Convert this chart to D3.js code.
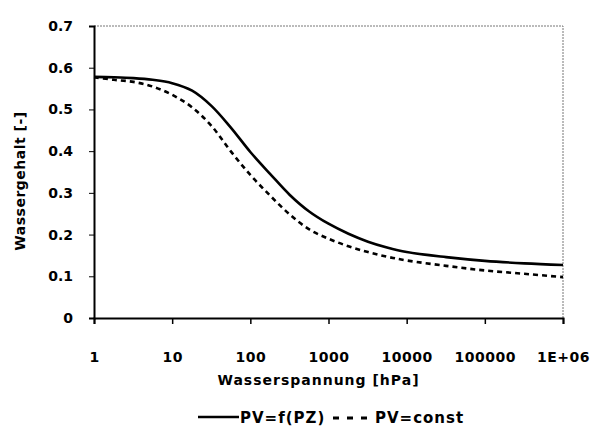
<!DOCTYPE html>
<html lang="de">
<head>
<meta charset="UTF-8">
<title>Wassergehalt</title>
<script src="https://d3js.org/d3.v7.min.js"></script>
<style>
  body { margin: 0; background: #fff; }
  text { font-family: "DejaVu Sans", sans-serif; font-weight: bold; fill: #000; }
</style>
</head>
<body>
<svg id="chart" width="590" height="429"></svg>
<script>
// Wasserspannung [hPa]
const suction = [1, 1.8, 3.2, 5.6, 10, 18, 32, 56, 100, 180, 320, 560, 1000, 1800, 3200, 5600, 10000, 32000, 100000, 320000, 1000000];
// PV=f(PZ)
const pvVariable = [0.578, 0.577, 0.575, 0.571, 0.563, 0.545, 0.508, 0.457, 0.398, 0.345, 0.295, 0.256, 0.226, 0.202, 0.183, 0.169, 0.158, 0.146, 0.137, 0.131, 0.127];
// PV=const
const pvConst = [0.577, 0.571, 0.566, 0.555, 0.535, 0.505, 0.460, 0.400, 0.343, 0.293, 0.248, 0.213, 0.190, 0.172, 0.158, 0.147, 0.138, 0.125, 0.114, 0.106, 0.098];

const xTicks = [1, 10, 100, 1000, 10000, 100000, 1000000];
const xTickLabels = ["1", "10", "100", "1000", "10000", "100000", "1E+06"];
const yTicks = [0, 0.1, 0.2, 0.3, 0.4, 0.5, 0.6, 0.7];

const svg = d3.select("#chart");
const plotL = 94, plotR = 563, plotT = 26, plotB = 318;

const x = d3.scaleLog().domain([1, 1e6]).range([plotL, plotR]);
const y = d3.scaleLinear().domain([0, 0.7]).range([plotB, plotT]);

// dotted frame top / right
svg.append("path")
  .attr("d", `M${plotL},${plotT}H${plotR}V${plotB}`)
  .attr("fill", "none")
  .attr("stroke", "#777")
  .attr("stroke-width", 1)
  .attr("stroke-dasharray", "2,1");

// y axis
const yAxis = svg.append("g")
  .attr("transform", `translate(${plotL},0)`)
  .call(d3.axisLeft(y).tickValues(yTicks).tickSize(5).tickPadding(16)
    .tickFormat(d => d === 0 ? "0" : d3.format(".1f")(d)));
yAxis.select(".domain").attr("stroke-width", 2);
yAxis.selectAll("text").style("font-size", "14px");

// x axis
const xAxis = svg.append("g")
  .attr("transform", `translate(0,${plotB})`)
  .call(d3.axisBottom(x).tickValues(xTicks).tickSize(6).tickPadding(28)
    .tickFormat((d, i) => xTickLabels[i]));
xAxis.select(".domain").attr("stroke-width", 2);
xAxis.selectAll(".tick line").attr("stroke-width", 1.5);
xAxis.selectAll("text").style("font-size", "14px").style("letter-spacing", "0.5px");

// curves
const line = d3.line()
  .x((d, i) => x(suction[i]))
  .y(d => y(d))
  .curve(d3.curveCatmullRom.alpha(0.5));

svg.append("path")
  .attr("d", line(pvVariable))
  .attr("fill", "none")
  .attr("stroke", "#000")
  .attr("stroke-width", 2.6);

svg.append("path")
  .attr("d", line(pvConst))
  .attr("fill", "none")
  .attr("stroke", "#000")
  .attr("stroke-width", 2.6)
  .attr("stroke-dasharray", "5,4");

// axis titles
svg.append("text")
  .attr("x", (plotL + plotR) / 2 - 10)
  .attr("y", 385)
  .attr("text-anchor", "middle")
  .style("font-size", "14px")
  .style("letter-spacing", "1px")
  .text("Wasserspannung [hPa]");

svg.append("text")
  .attr("transform", "translate(25,181) rotate(-90)")
  .attr("text-anchor", "middle")
  .style("font-size", "14px")
  .style("letter-spacing", "0.5px")
  .text("Wassergehalt [-]");

// legend
const lg = svg.append("g").attr("transform", "translate(198,417)");
lg.append("line").attr("x1", 0).attr("x2", 41).attr("y1", 0).attr("y2", 0)
  .attr("stroke", "#000").attr("stroke-width", 2.6);
lg.append("text").attr("x", 42).attr("y", 5.5)
  .style("font-size", "15px").style("letter-spacing", "1px").text("PV=f(PZ)");
lg.append("line").attr("x1", 135).attr("x2", 169).attr("y1", 1).attr("y2", 1)
  .attr("stroke", "#000").attr("stroke-width", 3).attr("stroke-dasharray", "6,8");
lg.append("text").attr("x", 177).attr("y", 5.5)
  .style("font-size", "15px").style("letter-spacing", "1px").text("PV=const");
</script>
</body>
</html>
